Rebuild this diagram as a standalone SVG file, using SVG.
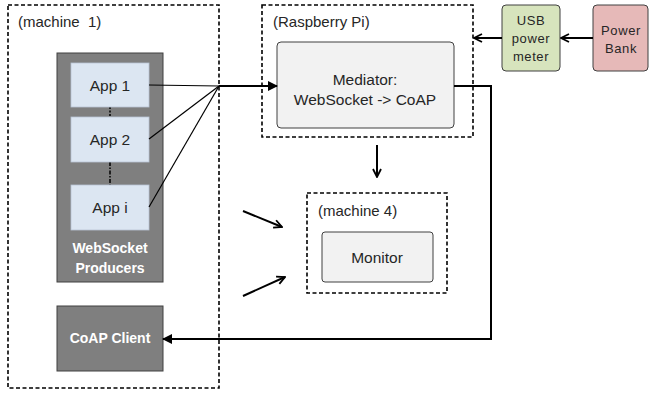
<svg xmlns="http://www.w3.org/2000/svg" width="650" height="394" viewBox="0 0 650 394">
<defs>
<style>
.dash{fill:none;stroke:#000;stroke-width:1.6;stroke-dasharray:4,2.5}
.gray{fill:#7f7f7f;stroke:#404040;stroke-width:1}
.app{fill:#dce6f2;stroke:#b8c4d4;stroke-width:0.8}
.light{fill:#f2f2f2;stroke:#404040;stroke-width:1}
.t{font-family:"Liberation Sans",Arial,sans-serif;font-size:15.5px;fill:#262626}
.lbl{font-family:"Liberation Sans",Arial,sans-serif;font-size:15px;fill:#262626}
.wt{font-family:"Liberation Sans",Arial,sans-serif;font-size:14px;font-weight:bold;fill:#fff}
.sm{font-family:"Liberation Sans",Arial,sans-serif;font-size:13px;fill:#262626;letter-spacing:0.6px}
.thin{fill:none;stroke:#000;stroke-width:1.2}
.thick{fill:none;stroke:#000;stroke-width:2}
</style>
<marker id="fill" viewBox="0 0 10 10" refX="9" refY="5" markerWidth="5" markerHeight="5" orient="auto" markerUnits="strokeWidth">
<path d="M0,0 L10,5 L0,10 z" fill="#000"/>
</marker>
<marker id="open" viewBox="0 0 10 10" refX="9" refY="5" markerWidth="5" markerHeight="6" orient="auto" markerUnits="strokeWidth">
<path d="M1,1 L9,5 L1,9" fill="none" stroke="#000" stroke-width="1.8"/>
</marker>
</defs>
<rect width="650" height="394" fill="#fff"/>

<g id="machine1">
<rect class="dash" x="8" y="5" width="211" height="383"/>
<text class="lbl" x="18" y="27" xml:space="preserve">(machine  1)</text>
</g>
<g id="producers">
<rect class="gray" x="57" y="53" width="106" height="229"/>
<text class="wt" x="110" y="253" text-anchor="middle">WebSocket</text>
<text class="wt" x="110" y="273" text-anchor="middle">Producers</text>
<line x1="110" y1="107" x2="110" y2="117" stroke="#000" stroke-width="1.5" stroke-dasharray="2,1.5"/>
<line x1="110" y1="162" x2="110" y2="185" stroke="#000" stroke-width="1.5" stroke-dasharray="4,1.5,1.5,1.5"/>
</g>
<g id="app1">
<rect class="app" x="71" y="63" width="78" height="44"/>
<text class="t" x="110" y="91" text-anchor="middle">App 1</text>
</g>
<g id="app2">
<rect class="app" x="71" y="117" width="78" height="45"/>
<text class="t" x="110" y="145" text-anchor="middle">App 2</text>
</g>
<g id="appi">
<rect class="app" x="71" y="185" width="78" height="45"/>
<text class="t" x="110" y="213" text-anchor="middle">App i</text>
</g>
<g id="coapclient">
<rect class="gray" x="57" y="306" width="106" height="65"/>
<text class="wt" x="110" y="343" text-anchor="middle">CoAP Client</text>
</g>

<g id="raspberrypi">
<rect class="dash" x="262" y="5" width="211" height="132"/>
<text class="lbl" x="273" y="27">(Raspberry Pi)</text>
</g>
<g id="mediator">
<rect class="light" x="277" y="42" width="177" height="86" rx="4"/>
<text class="t" x="365" y="85" text-anchor="middle">Mediator:</text>
<text class="t" x="365" y="105" text-anchor="middle">WebSocket -&gt; CoAP</text>
</g>

<g id="usbmeter">
<rect x="502" y="5" width="58" height="66" rx="4" fill="#d7e4bd" stroke="#404040" stroke-width="1"/>
<text class="sm" x="531" y="25" text-anchor="middle">USB</text>
<text class="sm" x="531" y="43" text-anchor="middle">power</text>
<text class="sm" x="531" y="61" text-anchor="middle">meter</text>
</g>
<g id="powerbank">
<rect x="593" y="5" width="55" height="66" rx="4" fill="#e6b9b8" stroke="#404040" stroke-width="1"/>
<text class="sm" x="621" y="35" text-anchor="middle">Power</text>
<text class="sm" x="621" y="53" text-anchor="middle">Bank</text>
</g>

<g id="machine4">
<rect class="dash" x="307" y="193" width="140" height="100"/>
<text class="lbl" x="318" y="216">(machine 4)</text>
</g>
<g id="monitor">
<rect class="light" x="322" y="232" width="111" height="50" rx="3"/>
<text class="t" x="377" y="263" text-anchor="middle">Monitor</text>
</g>

<g id="connectors">
<line class="thin" x1="149" y1="85" x2="219" y2="86"/>
<line class="thin" x1="149" y1="139" x2="219" y2="86"/>
<line class="thin" x1="149" y1="207" x2="219" y2="86"/>
<line class="thick" x1="219" y1="86" x2="277" y2="86" marker-end="url(#fill)"/>
<polyline class="thick" points="454,86 491,86 491,339 163,339" marker-end="url(#fill)"/>
<line class="thick" x1="377" y1="145" x2="377" y2="177" marker-end="url(#open)"/>
<line class="thick" x1="593" y1="38" x2="561" y2="38" marker-end="url(#open)"/>
<line class="thick" x1="502" y1="38" x2="474" y2="38" marker-end="url(#open)"/>
<line class="thick" x1="243" y1="211" x2="282" y2="227" marker-end="url(#open)"/>
<line class="thick" x1="243" y1="296" x2="285" y2="277" marker-end="url(#open)"/>
</g>
</svg>
